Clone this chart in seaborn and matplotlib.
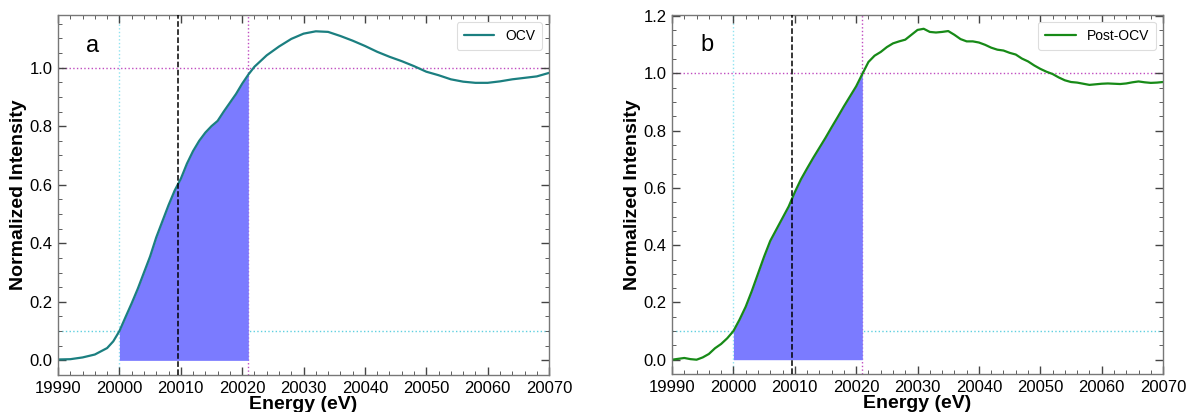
import numpy as np
import pandas as pd
import matplotlib
matplotlib.use("Agg")
import matplotlib.pyplot as plt
import seaborn as sns
from matplotlib.ticker import MultipleLocator

# ---------------- data ----------------
ocv_energy = [19990, 19992, 19994, 19996, 19998, 19999, 20000, 20001, 20002, 20003,
              20004, 20005, 20006, 20007, 20008, 20009, 20010, 20011, 20012, 20013,
              20014, 20015, 20016, 20017, 20018, 20019, 20020, 20021, 20022, 20024,
              20026, 20028, 20030, 20032, 20034, 20036, 20038, 20040, 20042, 20044,
              20046, 20048, 20050, 20052, 20054, 20056, 20058, 20060, 20062, 20064,
              20066, 20068, 20070]
ocv_intensity = [0.003, 0.004, 0.010, 0.020, 0.042, 0.065, 0.100, 0.148, 0.195, 0.245,
                 0.300, 0.355, 0.420, 0.475, 0.530, 0.580, 0.620, 0.672, 0.715, 0.750,
                 0.778, 0.800, 0.818, 0.850, 0.880, 0.910, 0.945, 0.976, 1.003, 1.042,
                 1.072, 1.098, 1.116, 1.124, 1.122, 1.108, 1.092, 1.074, 1.054, 1.037,
                 1.022, 1.005, 0.986, 0.974, 0.960, 0.952, 0.948, 0.948, 0.953, 0.960,
                 0.965, 0.970, 0.982]

post_energy = list(range(19990, 20071))
post_intensity = [0.000, 0.003, 0.006, 0.002, 0.000, 0.008, 0.020, 0.040, 0.055, 0.075,
                  0.100, 0.140, 0.185, 0.240, 0.300, 0.360, 0.415, 0.455, 0.495, 0.535,
                  0.585, 0.630, 0.668, 0.705, 0.740, 0.775, 0.812, 0.848, 0.885, 0.920,
                  0.955, 0.998, 1.040, 1.062, 1.075, 1.092, 1.105, 1.112, 1.118, 1.135,
                  1.152, 1.156, 1.145, 1.143, 1.145, 1.148, 1.135, 1.120, 1.112, 1.112,
                  1.108, 1.100, 1.090, 1.083, 1.080, 1.072, 1.066, 1.052, 1.042, 1.028,
                  1.016, 1.006, 0.998, 0.986, 0.976, 0.970, 0.968, 0.964, 0.960, 0.962,
                  0.964, 0.965, 0.964, 0.963, 0.965, 0.969, 0.972, 0.969, 0.967, 0.968,
                  0.970]

edge_start = 20000.0
edge_half = 20009.5
edge_end = 20021.0
level_low = 0.1
level_high = 1.0

panels = [
    dict(tag="a", name="OCV", x=ocv_energy, y=ocv_intensity, color="#1b7f80", ylim=(-0.05, 1.18)),
    dict(tag="b", name="Post-OCV", x=post_energy, y=post_intensity, color="#178a17", ylim=(-0.05, 1.205)),
]

# ---------------- style ----------------
sns.set_theme(style="ticks")
plt.rcParams["font.family"] = ["Liberation Sans", "DejaVu Sans"]
plt.rcParams["text.color"] = "black"
plt.rcParams["axes.labelcolor"] = "black"
plt.rcParams["xtick.color"] = "black"
plt.rcParams["ytick.color"] = "black"

fig = plt.figure(figsize=(11.89, 4.12), dpi=100)
positions = [[0.0488, 0.0898, 0.413, 0.874], [0.5652, 0.0922, 0.413, 0.872]]

for pos, p in zip(positions, panels):
    ax = fig.add_axes(pos)
    df = pd.DataFrame({"Energy": p["x"], "Intensity": p["y"]})
    sns.lineplot(data=df, x="Energy", y="Intensity", ax=ax, color=p["color"],
                 linewidth=1.6, label=p["name"])
    xs = np.linspace(edge_start, edge_end, 300)
    ys = np.interp(xs, p["x"], p["y"])
    ax.fill_between(xs, 0, ys, color="#7b7bff", linewidth=0, zorder=1)

    ax.axvline(edge_start, color="#8fe3f0", linestyle=":", linewidth=1.0, zorder=0)
    ax.axvline(edge_half, color="black", linestyle="--", linewidth=1.1, zorder=3)
    ax.axvline(edge_end, color="#c04cc0", linestyle=":", linewidth=1.0, zorder=0)
    ax.axhline(level_high, color="#c04cc0", linestyle=":", linewidth=1.0, zorder=0)
    ax.axhline(level_low, color="#5fd0e0", linestyle=":", linewidth=1.0, zorder=0)

    ax.set_xlim(19990, 20070)
    ax.set_ylim(*p["ylim"])
    ax.xaxis.set_major_locator(MultipleLocator(10))
    ax.xaxis.set_minor_locator(MultipleLocator(2))
    ax.yaxis.set_major_locator(MultipleLocator(0.2))
    ax.yaxis.set_minor_locator(MultipleLocator(0.05))
    ax.tick_params(which="both", direction="in", top=True, right=True,
                   bottom=True, left=True, labelsize=12, color="#444444",
                   labelcolor="black")
    ax.tick_params(which="major", length=6, width=1.0, pad=4)
    ax.tick_params(which="minor", length=3, width=0.6)
    for s in ax.spines.values():
        s.set_visible(True)
        s.set_color("#777777")
        s.set_linewidth(1.0)

    ax.set_xlabel("Energy (eV)", fontsize=14, fontweight="bold", labelpad=0)
    ax.set_ylabel("Normalized Intensity", fontsize=14, fontweight="bold", labelpad=2)
    ax.text(0.057, 0.915, p["tag"], transform=ax.transAxes, fontsize=17,
            va="center", ha="left")
    leg = ax.legend(loc="upper right", fontsize=10, frameon=True, fancybox=True,
                    handlelength=2.2, borderpad=0.5, framealpha=1)
    leg.get_frame().set_edgecolor("#dddddd")
    leg.get_frame().set_linewidth(0.8)

fig.savefig("out.png", dpi=100)
